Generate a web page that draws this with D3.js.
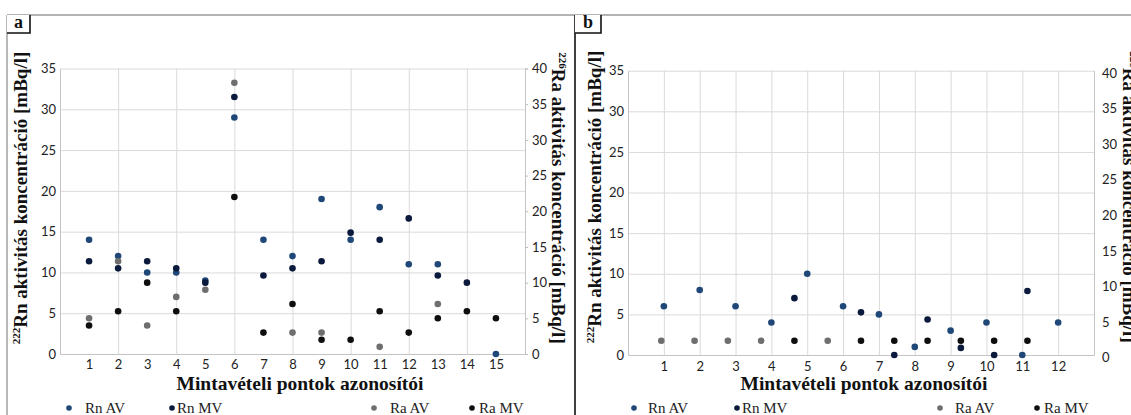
<!DOCTYPE html>
<html>
<head>
<meta charset="utf-8">
<script src="https://cdn.jsdelivr.net/npm/d3@7"></script>
<style>
  body { margin: 0; background: #fff; }
  svg { display: block; }
</style>
</head>
<body>
<svg id="chart" width="1131" height="415"></svg>
<script>
// ---- Panel a: 15 sampling points ----
const pointsA = [1, 2, 3, 4, 5, 6, 7, 8, 9, 10, 11, 12, 13, 14, 15];
const rnAV_A = [14, 12, 10, 10, 9, 29, 14, 12, 19, 14, 18, 11, 11, null, 0];      // left axis
const rnMV_A = [13, 12, 13, 12, 10, 36, 11, 12, 13, 17, 16, 19, 11, 10, null];    // right axis
const raAV_A = [5, 13, 4, 8, 9, 38, null, 3, 3, null, 1, null, 7, null, null];    // right axis
const raMV_A = [4, 6, 10, 6, null, 22, 3, 7, 2, 2, 6, 3, 5, 6, 5];                // right axis

// ---- Panel b: 12 sampling points (primary), 14 slots (secondary) ----
const pointsB = [1, 2, 3, 4, 5, 6, 7, 8, 9, 10, 11, 12];
const slotsB = [1, 2, 3, 4, 5, 6, 7, 8, 9, 10, 11, 12, 13, 14];
const rnAV_B = [6, 8, 6, 4, 10, 6, 5, 1, 3, 4, 0, 4];                                         // left axis
const rnMV_B = [null, null, null, null, 8, null, 6, 0, 5, 1, 0, 9, null, null];               // right axis
const raAV_B = [2, 2, 2, 2, null, 2, null, null, null, null, null, null, null, null];         // right axis
const raMV_B = [null, null, null, null, 2, null, 2, 2, 2, 2, 2, 2, null, null];               // right axis

const leftTicks = [0, 5, 10, 15, 20, 25, 30, 35];
const rightTicks = [0, 5, 10, 15, 20, 25, 30, 35, 40];
const seriesNames = ["Rn AV", "Rn MV", "Ra AV", "Ra MV"];
const seriesColors = ["#1f4878", "#0b1a3c", "#6e6e6e", "#0e0e0e"];
const xTitle = "Mintavételi pontok azonosítói";

const svg = d3.select("#chart");
const serif = "'Liberation Serif', 'Times New Roman', serif";
const sans = "Lato, 'Open Sans', sans-serif";

// outer frame
svg.append("line").attr("x1", 7).attr("x2", 1131).attr("y1", 15).attr("y2", 15)
  .attr("stroke", "#9a9a9a").attr("stroke-width", 1.6);
svg.append("line").attr("x1", 7).attr("x2", 7).attr("y1", 15).attr("y2", 415)
  .attr("stroke", "#9a9a9a").attr("stroke-width", 1.4);

function drawPanel(cfg) {
  const g = svg.append("g");
  const x = d3.scaleLinear().domain([0, cfg.xMax]).range([cfg.left, cfg.right]);
  const x2 = d3.scaleLinear().domain([0, cfg.x2Max]).range([cfg.left, cfg.right]);
  const yL = d3.scaleLinear().domain([0, 35]).range([cfg.bottom, cfg.top]);
  const yR = d3.scaleLinear().domain([0, 40]).range([cfg.bottom, cfg.top]);
  const w = cfg.right - cfg.left, h = cfg.bottom - cfg.top;

  // horizontal gridlines
  g.append("g").attr("transform", `translate(${cfg.left},0)`)
    .call(d3.axisLeft(yL).tickValues(leftTicks.slice(1)).tickSize(-w).tickFormat(""))
    .call(s => s.select(".domain").remove())
    .call(s => s.selectAll("line").attr("stroke", "#dadada"));

  // vertical gridlines
  g.append("g").attr("transform", `translate(0,${cfg.bottom})`)
    .call(d3.axisBottom(x).tickValues(cfg.gridX).tickSize(-h).tickFormat(""))
    .call(s => s.select(".domain").remove())
    .call(s => s.selectAll("line").attr("stroke", "#dadada"));

  // left axis
  g.append("g").attr("transform", `translate(${cfg.left},0)`)
    .call(d3.axisLeft(yL).tickValues(leftTicks).tickSize(0).tickPadding(cfg.leftPad))
    .call(s => s.select(".domain").attr("stroke", "#c4c4c4"))
    .call(s => s.selectAll("text").attr("font-family", sans).attr("font-size", 13).attr("fill", "#222"));

  // right axis
  g.append("g").attr("transform", `translate(${cfg.right},0)`)
    .call(d3.axisRight(yR).tickValues(rightTicks).tickSize(cfg.rightTick).tickPadding(cfg.rightPad))
    .call(s => s.select(".domain").attr("stroke", "#c4c4c4"))
    .call(s => s.selectAll("line").attr("stroke", "#bdbdbd"))
    .call(s => s.selectAll("text").attr("font-family", sans).attr("font-size", 13).attr("fill", "#222")
      .attr("dy", "0.32em").attr("transform", `translate(0,${cfg.rightShift})`));

  // bottom axis
  g.append("g").attr("transform", `translate(0,${cfg.bottom})`)
    .call(d3.axisBottom(x).tickValues(cfg.labelsX).tickSize(0).tickPadding(cfg.bottomPad))
    .call(s => s.select(".domain").attr("stroke", "#c4c4c4"))
    .call(s => s.selectAll("text").attr("font-family", sans).attr("font-size", 13).attr("fill", "#222"));

  // points
  cfg.series.forEach((s, k) => {
    const xs = s.secondaryX ? x2 : x;
    const ys = s.rightAxis ? yR : yL;
    const data = s.pos.map((p, i) => ({ p, v: s.vals[i] })).filter(d => d.v != null);
    g.append("g").selectAll("circle").data(data).join("circle")
      .attr("cx", d => xs(d.p)).attr("cy", d => ys(d.v)).attr("r", 3.3)
      .attr("fill", seriesColors[k]);
  });

  // axis titles
  g.append("text")
    .attr("transform", `translate(${cfg.leftTitleX},${cfg.titleY}) rotate(-90)`)
    .attr("text-anchor", "middle").attr("font-family", serif).attr("font-weight", "bold")
    .attr("font-size", 19).attr("fill", "#111")
    .call(t => {
      t.append("tspan").attr("font-size", 11).attr("dy", "-0.55em").text("222");
      t.append("tspan").attr("dy", "0.35em").text("Rn aktivitás koncentráció [mBq/l]");
    });
  g.append("text")
    .attr("transform", `translate(${cfg.rightTitleX},${cfg.titleY}) rotate(90)`)
    .attr("text-anchor", "middle").attr("font-family", serif).attr("font-weight", "bold")
    .attr("font-size", 19).attr("fill", "#111")
    .call(t => {
      t.append("tspan").attr("font-size", 11).attr("dy", "-0.55em").text("226");
      t.append("tspan").attr("dy", "0.35em").text("Ra aktivitás koncentráció [mBq/l]");
    });
  g.append("text").attr("x", cfg.xTitleX).attr("y", 390)
    .attr("text-anchor", "middle").attr("font-family", serif).attr("font-weight", "bold")
    .attr("font-size", 19.5).attr("fill", "#111").text(xTitle);

  // legend
  cfg.legend.forEach((l, k) => {
    g.append("circle").attr("cx", l.m).attr("cy", 408).attr("r", 2.8).attr("fill", seriesColors[k]);
    g.append("text").attr("x", l.t).attr("y", 412.5).attr("font-family", serif)
      .attr("font-size", 15).attr("fill", "#222").text(seriesNames[k]);
  });

  // panel letter box
  const bx = cfg.box;
  g.append("rect").attr("x", bx.x).attr("y", 15).attr("width", bx.w).attr("height", 18).attr("fill", "#fff");
  g.append("path").attr("d", `M${bx.x + bx.w},15V33H${bx.x}`).attr("fill", "none")
    .attr("stroke", "#111").attr("stroke-width", 1.6);
  g.append("text").attr("x", bx.x + bx.w / 2).attr("y", 28).attr("text-anchor", "middle")
    .attr("font-family", serif).attr("font-weight", "bold").attr("font-size", 18).attr("fill", "#111")
    .text(cfg.letter);
}

drawPanel({
  letter: "a",
  left: 60, right: 525, top: 68.5, bottom: 354,
  xMax: 16, x2Max: 16,
  gridX: [2, 4, 6, 8, 10, 12, 14],
  labelsX: pointsA,
  leftPad: 4, rightTick: 3, rightPad: 4, rightShift: 0, bottomPad: 5.5,
  leftTitleX: 26, rightTitleX: 553, titleY: 198, xTitleX: 300,
  series: [
    { pos: pointsA, vals: rnAV_A },
    { pos: pointsA, vals: rnMV_A, rightAxis: true },
    { pos: pointsA, vals: raAV_A, rightAxis: true },
    { pos: pointsA, vals: raMV_A, rightAxis: true }
  ],
  legend: [{ m: 69, t: 85 }, { m: 172, t: 177 }, { m: 374, t: 390 }, { m: 472, t: 479 }],
  box: { x: 7, w: 23 }
});

// panel b divider
svg.append("line").attr("x1", 575).attr("x2", 575).attr("y1", 15).attr("y2", 415)
  .attr("stroke", "#111").attr("stroke-width", 1.6);

drawPanel({
  letter: "b",
  left: 628, right: 1094, top: 70.7, bottom: 355,
  xMax: 13, x2Max: 14,
  gridX: d3.range(1, 14),
  labelsX: pointsB,
  leftPad: 4, rightTick: 0, rightPad: 8, rightShift: 2.5, bottomPad: 6.5,
  leftTitleX: 600, rightTitleX: 1124, titleY: 197, xTitleX: 864,
  series: [
    { pos: pointsB, vals: rnAV_B },
    { pos: slotsB, vals: rnMV_B, rightAxis: true, secondaryX: true },
    { pos: slotsB, vals: raAV_B, rightAxis: true, secondaryX: true },
    { pos: slotsB, vals: raMV_B, rightAxis: true, secondaryX: true }
  ],
  legend: [{ m: 634, t: 648 }, { m: 737, t: 742 }, { m: 940, t: 955 }, { m: 1037, t: 1044 }],
  box: { x: 575, w: 26 }
});
</script>
</body>
</html>
